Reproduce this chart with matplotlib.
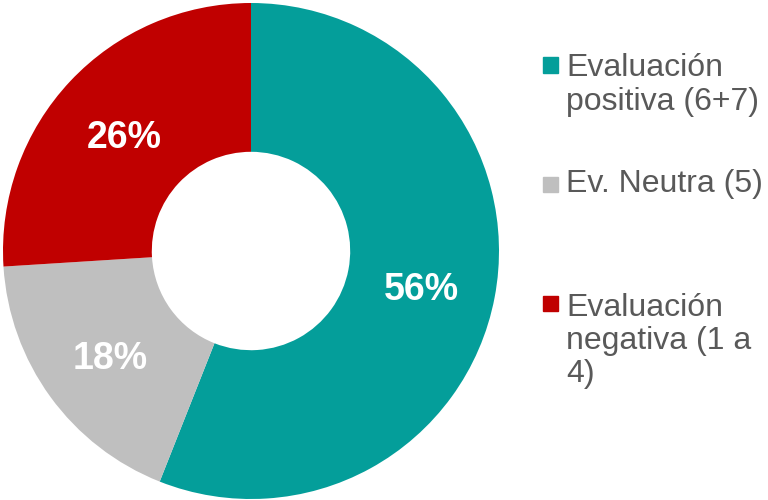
import matplotlib.pyplot as plt
from matplotlib.patches import Rectangle

# Datos
categorias = ['Evaluación\npositiva (6+7)', 'Ev. Neutra (5)', 'Evaluación\nnegativa (1 a\n4)']
valores = [56, 18, 26]
colores = ['#049E9A', '#BFBFBF', '#C00000']

plt.rcParams['font.family'] = ['Liberation Sans', 'DejaVu Sans']

fig = plt.figure(figsize=(7.68, 5.0), dpi=100)
ax = fig.add_axes([3 / 768, 1 / 500, 496 / 768, 496 / 500])

wedges, textos, autotextos = ax.pie(
    valores, colors=colores, startangle=90, counterclock=False,
    radius=1, wedgeprops=dict(width=0.6, edgecolor='none'),
    autopct='%1.0f%%', pctdistance=0.7,
    textprops=dict(color='white', fontsize=27, fontweight='bold'))
# bajar un poco las etiquetas
for t in autotextos:
    x, y = t.get_position()
    t.set_position((x, y - 0.025))
ax.set_xlim(-1, 1)
ax.set_ylim(-1, 1)
ax.set_aspect('equal')

# Leyenda manual (el cuadro se alinea con la primera linea)
centros_texto = [85, 184, 341]
centros_marca = [65, 184, 303]
for cat, col, yt, ym in zip(categorias, colores, centros_texto, centros_marca):
    fig.patches.append(Rectangle(((543) / 768, 1 - (ym + 7.5) / 500), 15 / 768, 15 / 500,
                                 transform=fig.transFigure, color=col, figure=fig))
    fig.text(566 / 768, 1 - yt / 500, cat, fontsize=23, color='#595959',
             va='center', ha='left', linespacing=1.15)

fig.savefig('out.png', dpi=100)
